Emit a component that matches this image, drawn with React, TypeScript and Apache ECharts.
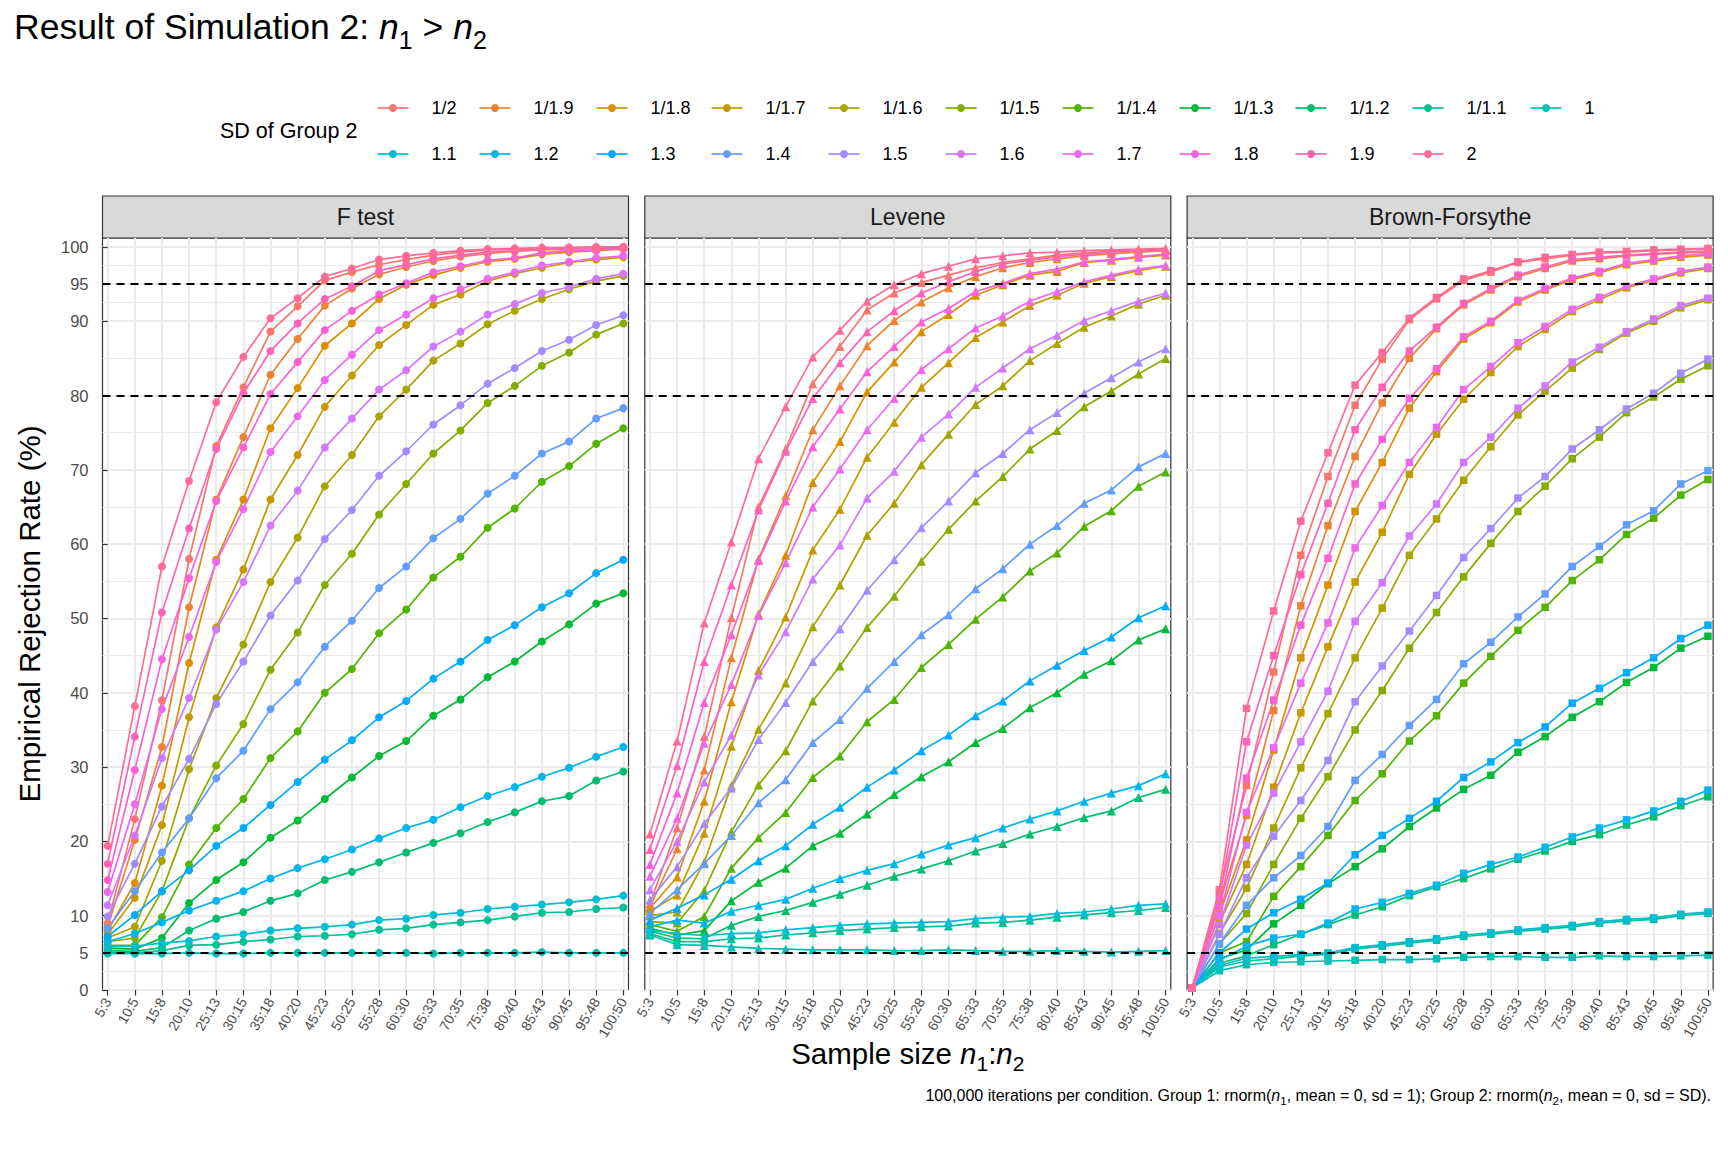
import React, { useEffect, useRef } from "react";
import * as echarts from "echarts";

const categories = ["5:3","10:5","15:8","20:10","25:13","30:15","35:18","40:20","45:23","50:25","55:28","60:30","65:33","70:35","75:38","80:40","85:43","90:45","95:48","100:50"];
const sdLevels = ["1/2","1/1.9","1/1.8","1/1.7","1/1.6","1/1.5","1/1.4","1/1.3","1/1.2","1/1.1","1","1.1","1.2","1.3","1.4","1.5","1.6","1.7","1.8","1.9","2"];
const panelNames = ["F test", "Levene", "Brown-Forsythe"];
const yTicks = [0, 5, 10, 20, 30, 40, 50, 60, 70, 80, 90, 95, 100];
const yMinor = [2.5, 7.5, 15, 25, 35, 45, 55, 65, 75, 85, 92.5, 97.5];
const refLines = [5, 80, 95];

// ---- F test ----
const f_1_2 = [9.0, 23.0, 39.0, 58.0, 73.2, 81.1, 88.6, 92.0, 95.5, 96.6, 97.6, 98.3, 98.9, 99.3, 99.6, 99.7, 99.8, 99.9, 99.9, 100.0];
const f_1_19 = [8.5, 20.2, 32.7, 51.5, 66.0, 74.4, 82.8, 87.6, 92.1, 94.4, 96.3, 97.3, 98.1, 98.7, 99.1, 99.4, 99.6, 99.7, 99.8, 99.9];
const f_1_18 = [8.0, 14.4, 27.5, 44.0, 57.9, 66.0, 75.6, 81.0, 86.7, 89.7, 93.0, 94.9, 96.2, 97.2, 98.0, 98.4, 99.0, 99.3, 99.5, 99.7];
const f_1_17 = [7.5, 12.4, 22.2, 36.7, 48.8, 56.6, 66.0, 72.0, 78.5, 82.7, 86.8, 89.5, 92.2, 93.6, 95.4, 96.4, 97.2, 97.9, 98.3, 98.6];
const f_1_16 = [7.0, 8.5, 17.4, 29.7, 39.3, 46.5, 54.9, 60.9, 67.8, 72.0, 77.2, 80.8, 84.7, 87.0, 89.6, 91.4, 93.0, 94.3, 95.4, 96.1];
const f_1_15 = [6.5, 7.0, 13.3, 23.1, 30.2, 35.8, 43.1, 48.1, 54.5, 58.7, 64.0, 68.1, 72.2, 75.3, 79.0, 81.3, 84.0, 85.8, 88.2, 89.7];
const f_1_14 = [6.0, 6.0, 9.8, 16.9, 21.8, 25.7, 31.2, 34.8, 40.0, 43.2, 48.0, 51.2, 55.5, 58.3, 62.2, 64.8, 68.4, 70.5, 73.5, 75.6];
const f_1_13 = [5.6, 5.5, 7.0, 11.7, 14.8, 17.2, 20.5, 22.8, 25.7, 28.6, 31.5, 33.5, 36.9, 39.1, 42.1, 44.2, 46.9, 49.2, 52.0, 53.4];
const f_1_12 = [5.3, 5.2, 5.7, 8.0, 9.6, 10.5, 12.0, 13.0, 14.8, 15.9, 17.2, 18.5, 19.8, 21.1, 22.6, 23.9, 25.4, 26.1, 28.2, 29.4];
const f_1_11 = [5.1, 5.0, 5.3, 6.0, 6.1, 6.5, 6.8, 7.2, 7.3, 7.5, 8.1, 8.3, 8.8, 9.1, 9.4, 9.9, 10.4, 10.5, 10.9, 11.1];
const f_1 = [4.9, 4.9, 4.9, 5.0, 4.9, 4.9, 5.0, 5.0, 5.0, 5.0, 5.0, 5.0, 4.9, 5.0, 5.0, 5.0, 5.1, 5.0, 5.0, 5.0];
const f_11 = [5.8, 5.9, 6.3, 6.6, 7.2, 7.5, 8.0, 8.3, 8.5, 8.8, 9.4, 9.6, 10.1, 10.4, 10.9, 11.2, 11.5, 11.8, 12.2, 12.7];
const f_12 = [6.5, 7.6, 9.1, 10.7, 12.0, 13.3, 15.0, 16.4, 17.6, 18.9, 20.4, 21.8, 22.9, 24.6, 26.1, 27.3, 28.7, 29.9, 31.4, 32.7];
const f_13 = [7.2, 10.1, 13.3, 16.1, 19.4, 21.8, 24.9, 28.0, 31.0, 33.6, 36.7, 38.9, 41.9, 44.2, 47.1, 49.1, 51.5, 53.4, 56.1, 57.9];
const f_14 = [8.3, 13.3, 18.5, 23.1, 28.5, 32.2, 37.8, 41.4, 46.2, 49.7, 54.1, 57.0, 60.8, 63.4, 66.8, 69.2, 72.2, 73.8, 76.9, 78.3];
const f_15 = [9.9, 17.0, 24.7, 31.1, 38.5, 44.2, 50.4, 55.1, 60.7, 64.6, 69.2, 72.5, 76.1, 78.7, 81.6, 83.7, 86.0, 87.5, 89.5, 90.8];
const f_16 = [11.4, 20.8, 31.2, 39.3, 48.5, 54.9, 62.5, 67.2, 73.0, 76.9, 80.8, 83.4, 86.6, 88.6, 90.9, 92.3, 93.8, 94.6, 95.7, 96.4];
const f_17 = [13.2, 25.0, 37.8, 47.5, 57.6, 64.7, 72.4, 77.2, 82.1, 85.5, 88.8, 90.9, 93.1, 94.3, 95.7, 96.6, 97.5, 98.0, 98.5, 98.8];
const f_18 = [14.8, 29.6, 44.5, 55.4, 65.8, 73.0, 80.2, 84.5, 88.8, 91.4, 93.6, 95.1, 96.6, 97.4, 98.2, 98.5, 99.2, 99.5, 99.6, 99.8];
const f_19 = [17.0, 34.1, 50.8, 62.1, 72.8, 80.3, 86.0, 89.7, 93.0, 94.7, 96.8, 97.6, 98.4, 98.9, 99.3, 99.5, 99.7, 99.8, 99.8, 99.9];
const f_2 = [19.4, 38.2, 57.0, 68.5, 79.1, 85.2, 90.4, 93.1, 96.0, 97.1, 98.3, 98.8, 99.2, 99.5, 99.7, 99.8, 99.9, 99.9, 100.0, 100.0];

// ---- Levene ----
const l_1_2 = [11.6, 21.8, 34.1, 50.1, 65.0, 72.8, 81.6, 86.6, 91.5, 93.8, 95.2, 96.2, 97.2, 97.9, 98.4, 98.9, 99.2, 99.4, 99.6, 99.7];
const l_1_19 = [11.2, 19.0, 29.6, 44.7, 58.0, 66.5, 75.4, 81.3, 86.7, 90.1, 92.6, 94.5, 96.0, 97.2, 97.9, 98.4, 98.8, 99.1, 99.3, 99.5];
const l_1_18 = [11.0, 15.2, 25.4, 38.8, 50.6, 58.5, 68.3, 73.8, 80.5, 84.5, 88.6, 90.9, 93.5, 94.9, 96.2, 96.7, 97.9, 98.2, 98.6, 98.9];
const l_1_17 = [10.6, 12.8, 21.1, 32.8, 43.0, 50.2, 59.2, 64.7, 71.7, 76.4, 81.1, 84.4, 87.8, 89.9, 92.1, 93.5, 95.1, 96.0, 96.8, 97.4];
const l_1_16 = [10.0, 10.5, 17.2, 27.5, 35.1, 41.3, 48.9, 54.5, 61.2, 65.5, 70.7, 74.8, 78.8, 81.3, 84.7, 87.0, 89.2, 90.7, 92.3, 93.5];
const l_1_15 = [9.2, 9.0, 13.4, 21.3, 27.6, 32.2, 38.9, 43.6, 48.8, 53.0, 57.7, 62.0, 65.8, 69.1, 72.8, 75.3, 78.5, 80.6, 82.9, 85.0];
const l_1_14 = [8.8, 7.9, 9.9, 16.4, 20.5, 23.9, 28.6, 31.5, 36.1, 39.1, 43.4, 46.5, 49.9, 52.9, 56.4, 58.8, 62.4, 64.5, 67.8, 69.7];
const l_1_13 = [8.3, 7.4, 8.0, 12.0, 14.5, 16.4, 19.4, 21.1, 23.7, 26.3, 28.7, 30.7, 33.3, 35.2, 38.0, 40.0, 42.5, 44.3, 47.1, 48.6];
const l_1_12 = [7.9, 7.0, 6.9, 8.7, 9.9, 10.7, 11.8, 12.9, 14.1, 15.3, 16.3, 17.4, 18.7, 19.7, 21.0, 22.0, 23.2, 24.1, 25.9, 27.0];
const l_1_11 = [7.6, 6.5, 6.5, 6.9, 7.0, 7.4, 7.7, 8.0, 8.2, 8.4, 8.5, 8.6, 9.0, 9.1, 9.4, 9.8, 10.1, 10.4, 10.7, 11.1];
const l_1 = [7.4, 6.1, 6.0, 5.8, 5.6, 5.5, 5.4, 5.4, 5.4, 5.3, 5.3, 5.4, 5.3, 5.2, 5.2, 5.3, 5.2, 5.1, 5.2, 5.3];
const l_11 = [8.0, 7.6, 7.3, 7.6, 7.7, 8.1, 8.4, 8.7, 8.9, 9.0, 9.1, 9.2, 9.6, 9.8, 9.9, 10.3, 10.5, 10.9, 11.4, 11.6];
const l_12 = [8.5, 9.4, 9.0, 10.6, 11.4, 12.2, 13.7, 15.0, 16.1, 17.0, 18.3, 19.5, 20.5, 21.8, 23.0, 24.1, 25.4, 26.5, 27.5, 29.1];
const l_13 = [9.4, 11.0, 12.8, 14.9, 17.4, 19.4, 22.3, 24.6, 27.3, 29.6, 32.2, 34.3, 36.9, 38.9, 41.6, 43.7, 45.7, 47.5, 50.1, 51.7];
const l_14 = [10.3, 13.5, 17.0, 20.8, 25.2, 28.3, 33.3, 36.4, 40.6, 44.2, 47.8, 50.5, 54.0, 56.7, 60.0, 62.5, 65.5, 67.3, 70.4, 72.2];
const l_15 = [12.1, 16.6, 22.4, 27.2, 33.7, 38.7, 44.2, 48.6, 53.8, 57.9, 62.2, 65.8, 69.6, 72.2, 75.4, 77.7, 80.3, 82.4, 84.5, 86.3];
const l_16 = [13.5, 20.0, 28.0, 34.3, 42.4, 48.2, 55.3, 59.9, 66.2, 69.8, 74.4, 77.5, 81.1, 83.7, 86.3, 88.1, 90.1, 91.4, 92.7, 93.8];
const l_17 = [15.3, 23.1, 33.2, 41.1, 50.4, 57.5, 65.0, 70.1, 75.4, 79.6, 83.5, 86.3, 89.1, 90.7, 92.7, 94.0, 95.3, 96.2, 97.0, 97.5];
const l_18 = [16.9, 26.5, 38.7, 47.8, 57.8, 65.8, 73.1, 78.2, 83.2, 86.6, 89.9, 91.7, 94.0, 95.1, 96.4, 97.0, 98.0, 98.3, 98.7, 99.0];
const l_19 = [18.9, 30.2, 44.2, 54.5, 64.6, 72.5, 79.6, 84.4, 88.6, 91.4, 93.8, 95.3, 96.7, 97.7, 98.2, 98.7, 99.0, 99.3, 99.5, 99.6];
const l_2 = [21.0, 33.5, 49.4, 60.3, 71.5, 78.5, 85.2, 88.8, 92.7, 94.9, 96.4, 97.4, 98.4, 98.8, 99.2, 99.3, 99.5, 99.6, 99.7, 99.8];

// ---- Brown-Forsythe ----
const b_1_2 = [0.3, 13.0, 27.5, 42.8, 58.5, 69.1, 78.7, 84.9, 90.2, 93.0, 95.5, 96.6, 97.9, 98.4, 98.9, 99.2, 99.3, 99.5, 99.6, 99.7];
const b_1_19 = [0.3, 11.6, 23.5, 37.6, 51.7, 62.5, 71.8, 79.0, 85.0, 89.0, 92.2, 94.2, 96.0, 97.1, 98.1, 98.4, 98.8, 99.0, 99.2, 99.3];
const b_1_18 = [0.3, 10.2, 20.2, 32.3, 44.7, 54.5, 64.4, 71.0, 78.3, 83.2, 87.6, 89.8, 92.6, 94.2, 95.6, 96.5, 97.6, 98.1, 98.6, 98.9];
const b_1_17 = [0.3, 9.0, 16.9, 27.3, 37.3, 46.2, 54.9, 61.6, 69.4, 74.8, 79.5, 83.1, 86.6, 88.9, 91.3, 92.9, 94.5, 95.5, 96.5, 97.1];
const b_1_16 = [0.3, 7.6, 13.7, 21.8, 29.9, 37.2, 44.7, 51.4, 58.5, 63.4, 68.6, 73.1, 77.4, 80.6, 83.7, 86.2, 88.4, 90.0, 91.8, 92.9];
const b_1_15 = [0.3, 6.2, 10.3, 16.9, 23.1, 28.7, 35.0, 40.3, 46.0, 50.8, 55.6, 60.1, 64.4, 67.8, 71.5, 74.4, 77.7, 79.8, 82.2, 84.0];
const b_1_14 = [0.3, 5.0, 6.5, 12.6, 16.6, 20.8, 25.5, 29.1, 33.5, 36.9, 41.3, 44.9, 48.4, 51.5, 55.1, 57.9, 61.3, 63.5, 66.6, 68.7];
const b_1_13 = [0.3, 4.2, 5.4, 8.9, 11.4, 14.3, 16.6, 19.0, 22.0, 24.5, 27.0, 28.9, 32.0, 34.1, 36.7, 38.8, 41.4, 43.4, 46.0, 47.6];
const b_1_12 = [0.3, 3.6, 4.6, 6.1, 7.5, 8.8, 10.1, 11.2, 12.7, 13.9, 15.0, 16.3, 17.6, 18.7, 20.0, 20.9, 22.2, 23.3, 24.8, 26.0];
const b_1_11 = [0.3, 3.1, 3.9, 4.2, 4.6, 4.8, 5.5, 5.9, 6.3, 6.7, 7.2, 7.5, 7.9, 8.2, 8.5, 9.0, 9.3, 9.5, 10.0, 10.3];
const b_1 = [0.3, 2.6, 3.4, 3.7, 3.8, 3.9, 4.0, 4.1, 4.1, 4.2, 4.4, 4.5, 4.5, 4.4, 4.4, 4.6, 4.5, 4.5, 4.6, 4.7];
const b_11 = [0.3, 3.3, 4.3, 4.5, 4.8, 5.0, 5.7, 6.1, 6.5, 6.9, 7.4, 7.7, 8.1, 8.4, 8.7, 9.2, 9.5, 9.7, 10.2, 10.5];
const b_12 = [0.3, 4.0, 5.9, 7.0, 7.5, 9.0, 10.9, 11.8, 13.0, 14.1, 15.7, 16.9, 17.9, 19.2, 20.6, 21.8, 22.9, 24.1, 25.4, 26.9];
const b_13 = [0.3, 5.0, 8.2, 10.4, 12.2, 14.4, 18.2, 20.8, 23.1, 25.4, 28.6, 30.7, 33.3, 35.4, 38.6, 40.6, 42.7, 44.7, 47.3, 49.1];
const b_14 = [0.3, 6.2, 11.4, 15.1, 18.1, 22.0, 28.2, 31.7, 35.6, 39.1, 43.9, 46.8, 50.2, 53.3, 57.0, 59.7, 62.6, 64.5, 68.1, 69.9];
const b_15 = [0.3, 7.5, 15.1, 20.7, 25.5, 30.9, 38.8, 43.6, 48.3, 53.1, 58.2, 62.1, 66.2, 69.1, 72.8, 75.4, 78.2, 80.3, 83.0, 84.9];
const b_16 = [0.3, 8.8, 19.5, 26.5, 33.4, 40.2, 49.6, 54.8, 61.1, 65.4, 71.0, 74.4, 78.3, 81.3, 84.5, 86.5, 88.6, 90.3, 92.1, 93.1];
const b_17 = [0.3, 10.0, 23.9, 32.6, 41.3, 49.4, 59.5, 65.2, 71.0, 75.7, 80.8, 83.9, 87.1, 89.3, 91.6, 93.2, 94.7, 95.7, 96.7, 97.3];
const b_18 = [0.3, 11.2, 28.5, 39.0, 49.1, 58.1, 68.1, 74.1, 79.6, 83.6, 87.9, 90.0, 92.8, 94.4, 95.8, 96.7, 97.8, 98.3, 98.8, 99.1];
const b_19 = [0.3, 12.4, 33.4, 45.0, 55.9, 65.5, 75.4, 81.1, 86.0, 89.2, 92.4, 94.4, 96.2, 97.3, 98.3, 98.6, 98.9, 99.1, 99.3, 99.4];
const b_2 = [0.3, 13.5, 37.9, 51.0, 63.1, 72.3, 81.4, 85.8, 90.4, 93.2, 95.7, 96.8, 98.0, 98.6, 99.0, 99.3, 99.4, 99.6, 99.7, 99.8];

const fTestRates = [f_1_2, f_1_19, f_1_18, f_1_17, f_1_16, f_1_15, f_1_14, f_1_13, f_1_12, f_1_11, f_1, f_11, f_12, f_13, f_14, f_15, f_16, f_17, f_18, f_19, f_2];
const leveneRates = [l_1_2, l_1_19, l_1_18, l_1_17, l_1_16, l_1_15, l_1_14, l_1_13, l_1_12, l_1_11, l_1, l_11, l_12, l_13, l_14, l_15, l_16, l_17, l_18, l_19, l_2];
const bfRates = [b_1_2, b_1_19, b_1_18, b_1_17, b_1_16, b_1_15, b_1_14, b_1_13, b_1_12, b_1_11, b_1, b_11, b_12, b_13, b_14, b_15, b_16, b_17, b_18, b_19, b_2];
const panelRates = [fTestRates, leveneRates, bfRates];

// ---- styling helpers ----
const FONT = "'Liberation Sans', Arial, Helvetica, sans-serif";

function hcl(h: number, c: number, l: number): string {
  const WHITE_Y = 100.0;
  const WHITE_u = 0.1978398;
  const WHITE_v = 0.4683363;
  const hr = (h * Math.PI) / 180;
  const U = c * Math.cos(hr);
  const V = c * Math.sin(hr);
  const Y = WHITE_Y * (l > 7.999592 ? Math.pow((l + 16) / 116, 3) : l / 903.3);
  const u = U / (13 * l) + WHITE_u;
  const v = V / (13 * l) + WHITE_v;
  const X = (9.0 * Y * u) / (4 * v);
  const Z = -X / 3 - 5 * Y + (3 * Y) / v;
  const g = (x: number) => {
    const t = x > 0.00304 ? 1.055 * Math.pow(x, 1 / 2.4) - 0.055 : 12.92 * x;
    return Math.round(Math.min(1, Math.max(0, t)) * 255);
  };
  const r = g((3.240479 * X - 1.53715 * Y - 0.498535 * Z) / WHITE_Y);
  const gg = g((-0.969256 * X + 1.875992 * Y + 0.041556 * Z) / WHITE_Y);
  const b = g((0.055648 * X - 0.204043 * Y + 1.057311 * Z) / WHITE_Y);
  const hx = (n: number) => n.toString(16).padStart(2, "0");
  return "#" + hx(r) + hx(gg) + hx(b);
}

const N = sdLevels.length;
const colors = sdLevels.map((_, i) => hcl((15 + (i * (360 - 360 / N)) / (N - 1)) % 360, 100, 65));

const PANEL_LEFT = [102.5, 644.8, 1187.1];
const PANEL_W = 526;
const PANEL_TOP = 238;
const PANEL_H = 752;
const STRIP_TOP = 196;
const STRIP_H = 42;
const SYMBOLS = ["circle", "triangle", "rect"];
const SYMBOL_SIZE = [8, 9, 7.5];
const catIdx = categories.map((_, i) => i);

const legendColX = [393, 495, 612, 727, 844, 961, 1078, 1195, 1311, 1428, 1546];
const legendRowY = [108, 154];

function buildOption() {
  const grid: any[] = [];
  const xAxis: any[] = [];
  const yAxis: any[] = [];
  const series: any[] = [];
  const graphic: any[] = [];

  for (let p = 0; p < 3; p++) {
    grid.push({
      left: PANEL_LEFT[p], top: PANEL_TOP, width: PANEL_W, height: PANEL_H,
      show: true, backgroundColor: "#FFFFFF", borderColor: "#333333", borderWidth: 1.2,
      containLabel: false, outerBoundsMode: "none",
    });
    xAxis.push({
      type: "value", gridIndex: p, min: -0.19, max: 19.19,
      axisLine: { show: false },
      axisTick: { show: true, customValues: catIdx, length: 5.5, lineStyle: { color: "#333333", width: 1.2 } },
      axisLabel: {
        show: true, customValues: catIdx, rotate: 60, fontSize: 14, color: "#4D4D4D", margin: 9, fontFamily: FONT,
        formatter: (v: number) => categories[Math.round(v)] ?? "",
      },
      splitLine: { show: true, lineStyle: { color: "#EBEBEB", width: 2 } },
    });
  }
  for (let p = 0; p < 3; p++) {
    yAxis.push({
      type: "value", gridIndex: p, min: 0, max: 101.2, position: "left",
      axisLine: { show: false },
      axisTick: { show: p === 0, customValues: yTicks, length: 5.5, lineStyle: { color: "#333333", width: 1.2 } },
      axisLabel: { show: p === 0, customValues: yTicks, fontSize: 16.5, color: "#4D4D4D", margin: 14, fontFamily: FONT },
      splitLine: { show: true, lineStyle: { color: "#EBEBEB", width: 2 } },
    });
  }
  for (let p = 0; p < 3; p++) {
    yAxis.push({
      type: "value", gridIndex: p, min: 0, max: 101.2, position: "right",
      axisLine: { show: false },
      axisTick: { show: false, customValues: yMinor },
      axisLabel: { show: false },
      splitLine: { show: true, lineStyle: { color: "#EBEBEB", width: 1 } },
    });
  }

  for (let p = 0; p < 3; p++) {
    const rates = panelRates[p];
    for (let k = 0; k < N; k++) {
      series.push({
        type: "line", name: sdLevels[k], xAxisIndex: p, yAxisIndex: p,
        data: rates[k].map((v, i) => [i, v]),
        symbol: "none", showSymbol: false, silent: true, z: 2,
        lineStyle: { color: colors[k], width: 1.7 }, itemStyle: { color: colors[k] },
        emphasis: { disabled: true }, animation: false,
      });
    }
    for (let k = 0; k < N; k++) {
      const s: any = {
        type: "scatter", name: sdLevels[k], xAxisIndex: p, yAxisIndex: p,
        data: rates[k].map((v, i) => [i, v]),
        symbol: SYMBOLS[p], symbolSize: SYMBOL_SIZE[p], silent: true, z: 3,
        itemStyle: { color: colors[k], opacity: 1 },
        emphasis: { disabled: true }, animation: false,
      };
      if (k === N - 1) {
        s.markLine = {
          silent: true, symbol: ["none", "none"], animation: false,
          label: { show: false },
          lineStyle: { color: "#000000", width: 2, type: [8, 6] },
          data: refLines.map((v) => ({ yAxis: v })),
        };
      }
      series.push(s);
    }

    // strip
    graphic.push({
      type: "rect", shape: { x: PANEL_LEFT[p], y: STRIP_TOP, width: PANEL_W, height: STRIP_H },
      style: { fill: "#D9D9D9", stroke: "#333333", lineWidth: 1.2 }, silent: true,
    });
    graphic.push({
      type: "text", x: PANEL_LEFT[p] + PANEL_W / 2, y: STRIP_TOP + STRIP_H / 2,
      style: { text: panelNames[p], fontSize: 23, fontFamily: FONT, fill: "#1A1A1A", align: "center", verticalAlign: "middle", textAlign: "center", textVerticalAlign: "middle" },
      silent: true,
    });
  }

  // title
  graphic.push({
    type: "text", x: 14, y: 2,
    style: {
      text: "{a|Result of Simulation 2: }{i|n}{s|1}{a| > }{i|n}{s|2}",
      align: "left", verticalAlign: "top", textAlign: "left", textVerticalAlign: "top",
      rich: {
        a: { fontSize: 35.5, lineHeight: 50, fontFamily: FONT, fill: "#000000" },
        i: { fontSize: 35.5, lineHeight: 50, fontFamily: FONT, fontStyle: "italic", fill: "#000000" },
        s: { fontSize: 25, lineHeight: 25, fontFamily: FONT, fill: "#000000", verticalAlign: "bottom" },
      },
    },
    silent: true,
  });

  // legend
  graphic.push({
    type: "text", x: 220, y: 131,
    style: { text: "SD of Group 2", fontSize: 21.5, fontFamily: FONT, fill: "#000000", align: "left", verticalAlign: "middle", textAlign: "left", textVerticalAlign: "middle" },
    silent: true,
  });
  for (let k = 0; k < N; k++) {
    const row = k < 11 ? 0 : 1;
    const col = k < 11 ? k : k - 11;
    const cx = legendColX[col];
    const cy = legendRowY[row];
    graphic.push({ type: "line", shape: { x1: cx - 15.5, y1: cy, x2: cx + 15.5, y2: cy }, style: { stroke: colors[k], lineWidth: 1.7 }, silent: true });
    graphic.push({ type: "circle", shape: { cx, cy, r: 4 }, style: { fill: colors[k] }, silent: true });
    graphic.push({
      type: "text", x: cx + 38.6, y: cy,
      style: { text: sdLevels[k], fontSize: 18, fontFamily: FONT, fill: "#000000", align: "left", verticalAlign: "middle", textAlign: "left", textVerticalAlign: "middle" },
      silent: true,
    });
  }

  // axis titles
  graphic.push({
    type: "text", x: 29, y: PANEL_TOP + PANEL_H / 2, rotation: Math.PI / 2,
    style: { text: "Empirical Rejection Rate (%)", fontSize: 29.5, fontFamily: FONT, fill: "#000000", align: "center", verticalAlign: "middle", textAlign: "center", textVerticalAlign: "middle" },
    silent: true,
  });
  graphic.push({
    type: "text", x: (PANEL_LEFT[0] + PANEL_LEFT[2] + PANEL_W) / 2, y: 1053,
    style: {
      text: "{a|Sample size }{i|n}{s|1}{a|:}{i|n}{s|2}",
      align: "center", verticalAlign: "middle", textAlign: "center", textVerticalAlign: "middle",
      rich: {
        a: { fontSize: 29.5, lineHeight: 42, fontFamily: FONT, fill: "#000000" },
        i: { fontSize: 29.5, lineHeight: 42, fontFamily: FONT, fontStyle: "italic", fill: "#000000" },
        s: { fontSize: 21, lineHeight: 21, fontFamily: FONT, fill: "#000000", verticalAlign: "bottom" },
      },
    },
    silent: true,
  });

  // caption
  graphic.push({
    type: "text", x: 1711, y: 1095,
    style: {
      text: "{a|100,000 iterations per condition. Group 1: rnorm(}{i|n}{s|1}{a|, mean = 0, sd = 1); Group 2: rnorm(}{i|n}{s|2}{a|, mean = 0, sd = SD).}",
      align: "right", verticalAlign: "middle", textAlign: "right", textVerticalAlign: "middle",
      rich: {
        a: { fontSize: 16, lineHeight: 23, fontFamily: FONT, fill: "#000000" },
        i: { fontSize: 16, lineHeight: 23, fontFamily: FONT, fontStyle: "italic", fill: "#000000" },
        s: { fontSize: 11.5, lineHeight: 11.5, fontFamily: FONT, fill: "#000000", verticalAlign: "bottom" },
      },
    },
    silent: true,
  });

  return {
    animation: false,
    backgroundColor: "#FFFFFF",
    textStyle: { fontFamily: FONT },
    grid, xAxis, yAxis, series, graphic,
  };
}

export default function App() {
  const ref = useRef<HTMLDivElement>(null);
  useEffect(() => {
    if (!ref.current) return;
    const chart = echarts.init(ref.current, null, { renderer: "svg" });
    chart.setOption(buildOption() as any);
    return () => chart.dispose();
  }, []);
  return (
    <div
      ref={ref}
      style={{ position: "absolute", left: 0, top: 0, width: 1728, height: 1152, background: "#FFFFFF" }}
    />
  );
}
